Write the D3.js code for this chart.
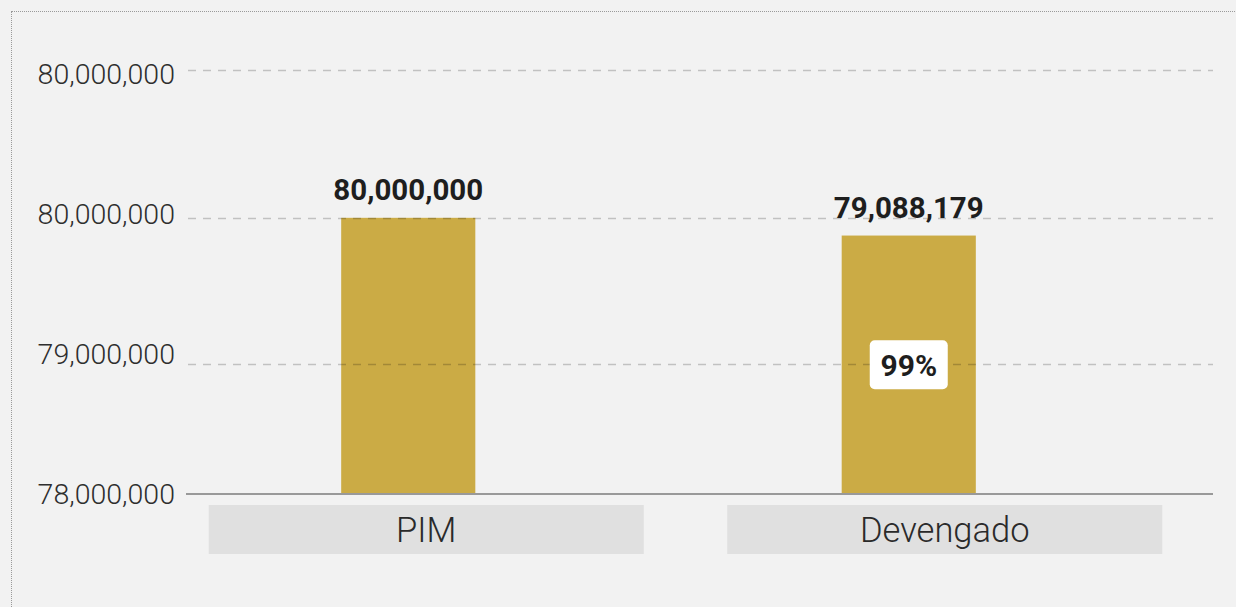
<!DOCTYPE html>
<html>
<head>
<meta charset="utf-8">
<script src="https://cdn.jsdelivr.net/npm/d3@7"></script>
<style>
  html, body { margin: 0; padding: 0; background: #f2f2f2; overflow: hidden; }
  #frame { position: absolute; left: 11px; top: 11px; width: 1300px; height: 700px; border: 1px dotted #9a9a9a; }
  svg { position: absolute; left: 0; top: 0; font-family: Roboto, sans-serif; }
</style>
</head>
<body>
<div id="frame"></div>
<div id="chart"></div>
<script>
// chart data
const categories = ['PIM', 'Devengado'];
const values = [80000000, 79088179];
const percentLabels = [null, '99%'];

// y axis: label positions and texts as printed on the chart
const axisTickValues = [78000000, 79000000, 80000000, 81000000];
const axisTickLabels = ['78,000,000', '79,000,000', '80,000,000', '80,000,000'];
// dashed grid lines (value scale)
const gridValues = [72500000, 80000000, 87600000];

const width = 1236, height = 607;
const plot = { left: 186, right: 1213, top: 70, bottom: 494 };

const svg = d3.select('#chart').append('svg')
  .attr('width', width)
  .attr('height', height);

const y = d3.scaleLinear()
  .domain([65800000, 87600000])
  .range([plot.bottom, plot.top]);

const yLabels = d3.scaleLinear()
  .domain([78000000, 81000000])
  .range([plot.bottom, 74]);

const xBar = d3.scaleBand()
  .domain(categories)
  .range([158, 1159])
  .paddingInner(0.732)
  .paddingOuter(0.366);

const xLabel = d3.scaleBand()
  .domain(categories)
  .range([167, 1204])
  .paddingInner(0.161)
  .paddingOuter(0.0805);

const fmt = d3.format(',');

// bars
svg.append('g').selectAll('rect')
  .data(values)
  .join('rect')
  .attr('x', (d, i) => xBar(categories[i]))
  .attr('y', d => y(d))
  .attr('width', xBar.bandwidth())
  .attr('height', d => plot.bottom - y(d))
  .attr('fill', '#cbab45');

// grid lines, drawn over the bars
svg.append('g').selectAll('line')
  .data(gridValues)
  .join('line')
  .attr('x1', plot.left + 2)
  .attr('x2', plot.right)
  .attr('y1', d => Math.round(y(d)) + 0.5)
  .attr('y2', d => Math.round(y(d)) + 0.5)
  .attr('stroke', 'rgba(0,0,0,0.2)')
  .attr('stroke-width', 1.5)
  .attr('stroke-dasharray', '8,7');

// baseline
svg.append('line')
  .attr('x1', plot.left)
  .attr('x2', plot.right)
  .attr('y1', plot.bottom)
  .attr('y2', plot.bottom)
  .attr('stroke', '#999')
  .attr('stroke-width', 2);

// y axis labels
const yAxis = svg.append('g')
  .attr('transform', `translate(${plot.left - 11},0)`)
  .call(d3.axisLeft(yLabels)
    .tickValues(axisTickValues)
    .tickFormat((d, i) => axisTickLabels[i])
    .tickSize(0)
    .tickPadding(0));
yAxis.select('.domain').remove();
yAxis.selectAll('text')
  .attr('fill', '#2e2e2e')
  .attr('font-family', 'Roboto, sans-serif')
  .attr('font-weight', 300)
  .attr('font-size', 28.5);

// value labels above bars
svg.append('g').selectAll('text')
  .data(values)
  .join('text')
  .attr('x', (d, i) => xBar(categories[i]) + xBar.bandwidth() / 2)
  .attr('y', d => y(d) - 18)
  .attr('text-anchor', 'middle')
  .attr('font-weight', 700)
  .attr('font-size', 29.5)
  .attr('fill', '#1e1e1e')
  .text(d => fmt(d));

// percentage badge in the middle of the bar
const badges = svg.append('g').selectAll('g')
  .data(values.map((v, i) => ({ v, i, label: percentLabels[i] })).filter(d => d.label))
  .join('g')
  .attr('transform', d => `translate(${xBar(categories[d.i]) + xBar.bandwidth() / 2},${(y(d.v) + plot.bottom) / 2})`);

badges.append('rect')
  .attr('x', -39)
  .attr('y', -24.5)
  .attr('width', 78)
  .attr('height', 49)
  .attr('rx', 5)
  .attr('fill', '#fff');

badges.append('text')
  .attr('text-anchor', 'middle')
  .attr('dy', '0.36em')
  .attr('font-weight', 700)
  .attr('font-size', 30)
  .attr('fill', '#1e1e1e')
  .text(d => d.label);

// category labels in grey boxes
const cats = svg.append('g').selectAll('g')
  .data(categories)
  .join('g')
  .attr('transform', d => `translate(${xLabel(d)},505)`);

cats.append('rect')
  .attr('width', xLabel.bandwidth())
  .attr('height', 49)
  .attr('fill', '#e0e0e0');

cats.append('text')
  .attr('x', xLabel.bandwidth() / 2)
  .attr('y', 25)
  .attr('dy', '0.36em')
  .attr('text-anchor', 'middle')
  .attr('font-weight', 300)
  .attr('font-size', 34.5)
  .attr('fill', '#2a2a2a')
  .text(d => d);
</script>
</body>
</html>
